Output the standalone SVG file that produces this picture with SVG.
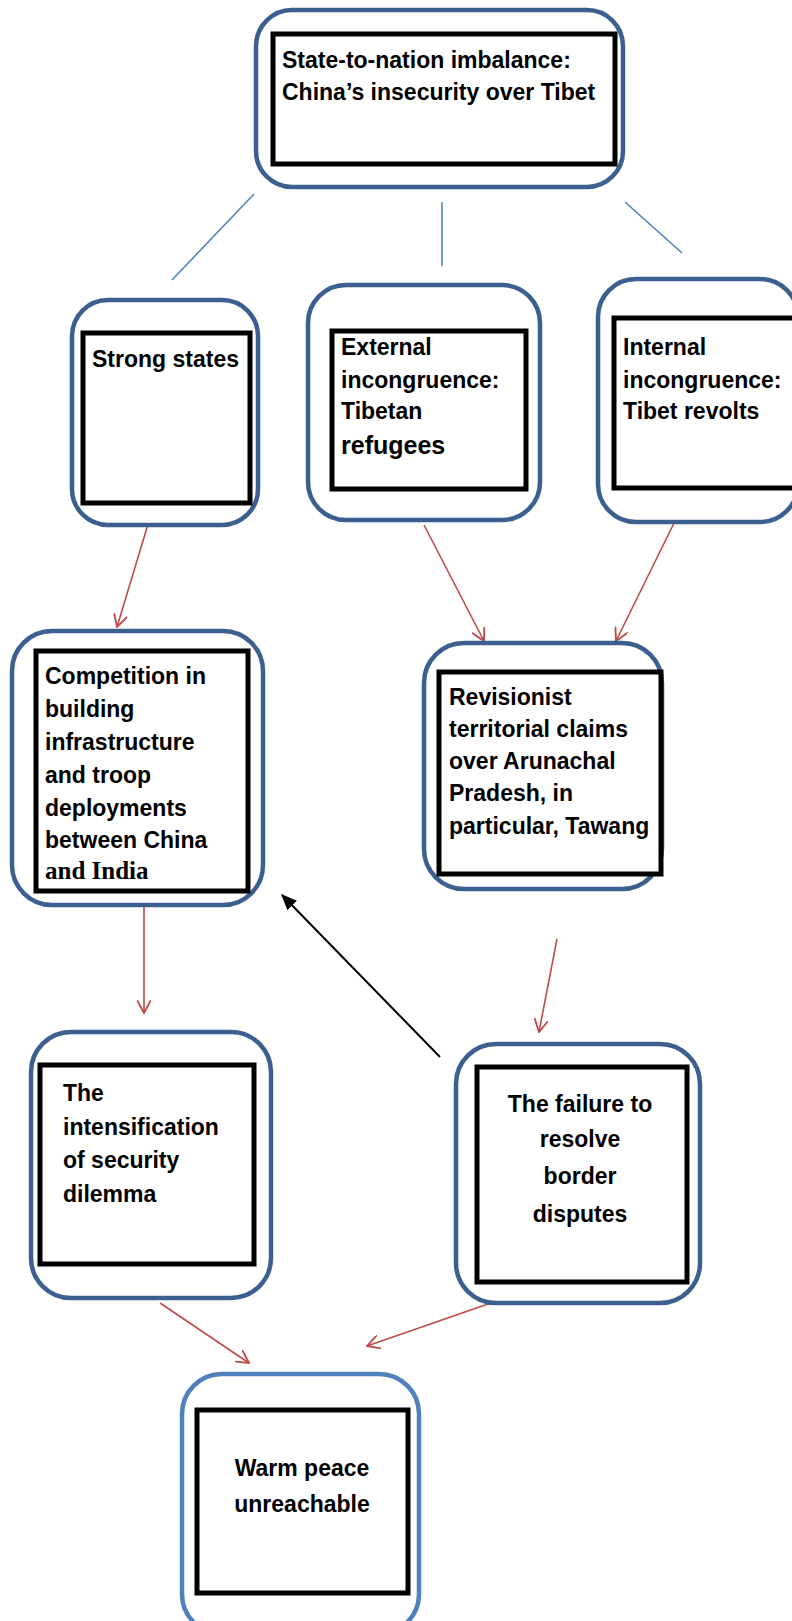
<svg xmlns="http://www.w3.org/2000/svg" width="792" height="1621" viewBox="0 0 792 1621">
<style>
.outer{fill:#fff;stroke:#3b6090;stroke-width:4.5}
.outer2{fill:#fff;stroke:#4f81bd;stroke-width:4.5}
.inner{fill:#fff;stroke:#000;stroke-width:5}
.t{font-family:"Liberation Sans",Arial,sans-serif;font-weight:bold;font-size:23px;fill:#000}
.serif{font-family:"Liberation Serif","Times New Roman",serif;font-weight:bold;font-size:25px}
.blue{stroke:#4a7ebb;stroke-width:1.5;fill:none}
.red{stroke:#be4b48;stroke-width:1.6;fill:none;marker-end:url(#ra)}
.blk{stroke:#000;stroke-width:2;fill:none;marker-end:url(#ba)}
</style>
<defs>
<marker id="ra" viewBox="0 0 12 12" refX="11" refY="6" markerWidth="14" markerHeight="14" markerUnits="userSpaceOnUse" orient="auto">
<path d="M0,0 L11,6 L0,12" fill="none" stroke="#be4b48" stroke-width="1.6"/>
</marker>
<marker id="ba" viewBox="0 0 12 12" refX="11" refY="6" markerWidth="16" markerHeight="16" markerUnits="userSpaceOnUse" orient="auto">
<path d="M0,1 L12,6 L0,11 Z" fill="#000"/>
</marker>
</defs>
<rect width="792" height="1621" fill="#fff"/>

<g id="connectors">
<line class="blue" x1="254" y1="194" x2="172" y2="280"/>
<line class="blue" x1="442" y1="202" x2="442" y2="266"/>
<line class="blue" x1="625" y1="202" x2="682" y2="253"/>
<line class="red" x1="152" y1="511" x2="117" y2="627"/>
<line class="red" x1="424" y1="525" x2="484" y2="641"/>
<line class="red" x1="677" y1="517" x2="616" y2="641"/>
<line class="red" x1="144" y1="889" x2="144" y2="1013"/>
<line class="red" x1="557" y1="939" x2="539" y2="1032"/>
<line class="blk" x1="440" y1="1057" x2="282" y2="895"/>
<line class="red" x1="160" y1="1303" x2="249" y2="1363"/>
<line class="red" x1="488" y1="1304" x2="367" y2="1346"/>
</g>

<g id="n-top">
<rect class="outer" x="256" y="10" width="367" height="177" rx="36"/>
<rect class="inner" x="273" y="34" width="342" height="130"/>
<text class="t" x="282" y="68">State-to-nation imbalance:</text>
<text class="t" x="282" y="100">China’s insecurity over Tibet</text>
</g>

<g id="n-strong">
<rect class="outer" x="72" y="300" width="186" height="225" rx="36"/>
<rect class="inner" x="83" y="333" width="167" height="170"/>
<text class="t" x="92" y="367">Strong states</text>
</g>

<g id="n-external">
<rect class="outer" x="308" y="285" width="232" height="235" rx="38"/>
<rect class="inner" x="332" y="331" width="194" height="158"/>
<text class="t" x="341" y="355">External</text>
<text class="t" x="341" y="388">incongruence:</text>
<text class="t" x="341" y="419">Tibetan</text>
<text class="t" x="341" y="454" style="font-size:25px">refugees</text>
</g>

<g id="n-internal">
<rect class="outer" x="598" y="279" width="200" height="243" rx="38"/>
<rect class="inner" x="614" y="318" width="185" height="170"/>
<text class="t" x="623" y="355">Internal</text>
<text class="t" x="623" y="388">incongruence:</text>
<text class="t" x="623" y="419">Tibet revolts</text>
</g>

<g id="n-competition">
<rect class="outer" x="12" y="631" width="251" height="274" rx="40"/>
<rect class="inner" x="36" y="651" width="212" height="240"/>
<text class="t" x="45" y="684">Competition in</text>
<text class="t" x="45" y="717">building</text>
<text class="t" x="45" y="750">infrastructure</text>
<text class="t" x="45" y="783">and troop</text>
<text class="t" x="45" y="816">deployments</text>
<text class="t" x="45" y="848">between China</text>
<text class="t serif" x="45" y="879">and India</text>
</g>

<g id="n-revisionist">
<rect class="outer" x="424" y="643" width="238" height="246" rx="40"/>
<rect class="inner" x="439" y="672" width="222" height="202"/>
<text class="t" x="449" y="705">Revisionist</text>
<text class="t" x="449" y="737">territorial claims</text>
<text class="t" x="449" y="769">over Arunachal</text>
<text class="t" x="449" y="801">Pradesh, in</text>
<text class="t" x="449" y="834">particular, Tawang</text>
</g>

<g id="n-intensification">
<rect class="outer" x="31" y="1032" width="240" height="266" rx="40"/>
<rect class="inner" x="40" y="1065" width="214" height="199"/>
<text class="t" x="63" y="1101">The</text>
<text class="t" x="63" y="1135">intensification</text>
<text class="t" x="63" y="1168">of security</text>
<text class="t" x="63" y="1202">dilemma</text>
</g>

<g id="n-failure">
<rect class="outer" x="456" y="1044" width="244" height="259" rx="40"/>
<rect class="inner" x="477" y="1067" width="210" height="215"/>
<text class="t" x="580" y="1112" text-anchor="middle">The failure to</text>
<text class="t" x="580" y="1147" text-anchor="middle">resolve</text>
<text class="t" x="580" y="1184" text-anchor="middle">border</text>
<text class="t" x="580" y="1222" text-anchor="middle">disputes</text>
</g>

<g id="n-warm">
<rect class="outer2" x="182" y="1374" width="237" height="260" rx="40"/>
<rect class="inner" x="197" y="1410" width="211" height="183"/>
<text class="t" x="302" y="1476" text-anchor="middle">Warm peace</text>
<text class="t" x="302" y="1512" text-anchor="middle">unreachable</text>
</g>
</svg>
